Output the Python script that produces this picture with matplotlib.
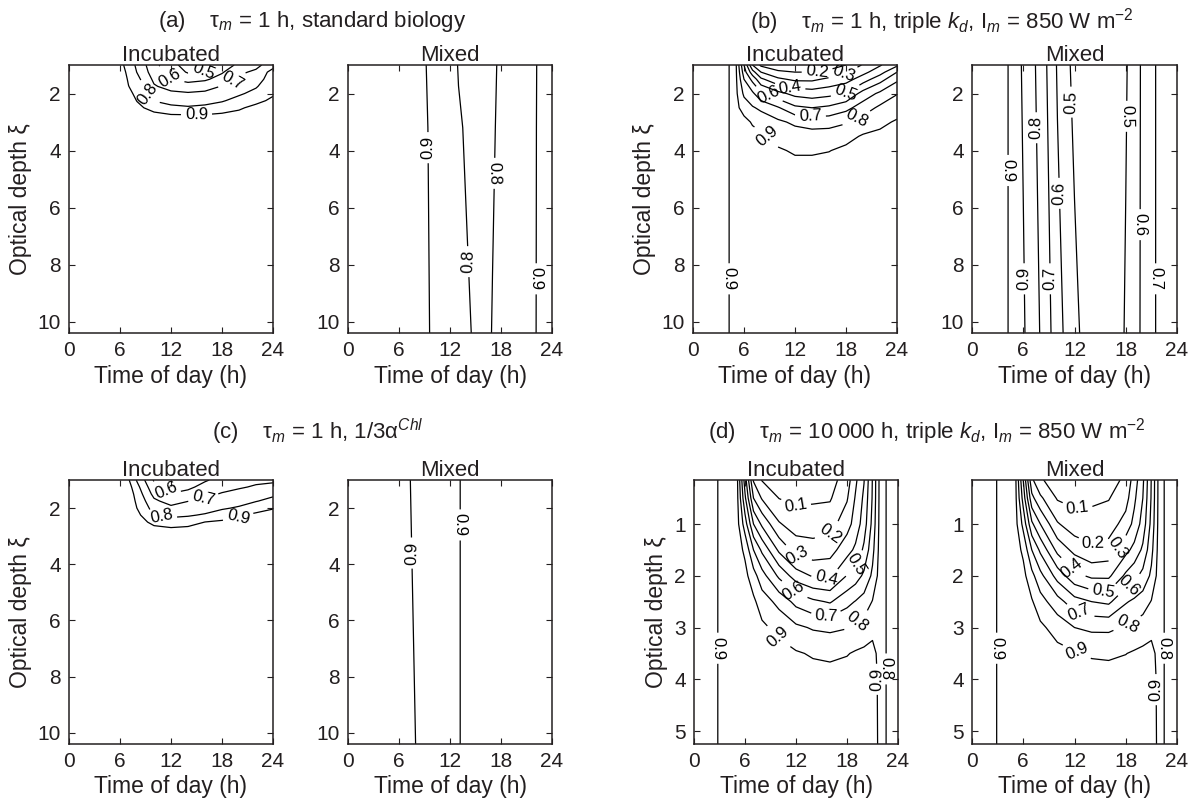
import numpy as np
import matplotlib
matplotlib.use('Agg')
import matplotlib.pyplot as plt

plt.rcParams['font.family'] = ['Liberation Sans', 'DejaVu Sans']
plt.rcParams['mathtext.fontset'] = 'custom'
plt.rcParams['mathtext.rm'] = 'Liberation Sans'
plt.rcParams['mathtext.it'] = 'Liberation Sans:italic'
plt.rcParams['text.color'] = '#231f20'
plt.rcParams['axes.labelcolor'] = '#231f20'
plt.rcParams['xtick.color'] = '#231f20'
plt.rcParams['ytick.color'] = '#231f20'

levels = [0.1, 0.2, 0.3, 0.4, 0.5, 0.6, 0.7, 0.8, 0.9]
hours = list(range(25))

# ---- (a) tau_m = 1 h, standard biology ----
incA_times = [0, 4, 6, 7, 8, 10, 12, 14, 16, 18, 20, 22, 24]
incA_depths = [1.0, 1.25, 1.5, 1.75, 2.0, 2.25, 2.5, 2.75, 3.0, 3.5, 10.4]
incA_profiles = [
    [0.97, 0.97, 0.97, 0.97, 0.97, 0.97, 0.97, 0.97, 0.97, 0.97, 0.97],
    [0.97, 0.97, 0.97, 0.97, 0.97, 0.97, 0.97, 0.97, 0.97, 0.97, 0.97],
    [0.93, 0.95, 0.96, 0.97, 0.97, 0.97, 0.97, 0.97, 0.97, 0.97, 0.97],
    [0.86, 0.875, 0.89, 0.902, 0.92, 0.94, 0.95, 0.96, 0.97, 0.97, 0.97],
    [0.78, 0.797, 0.83, 0.86, 0.88, 0.897, 0.92, 0.94, 0.95, 0.97, 0.97],
    [0.63, 0.65, 0.68, 0.71, 0.75, 0.795, 0.87, 0.92, 0.94, 0.96, 0.97],
    [0.53, 0.56, 0.60, 0.665, 0.72, 0.77, 0.82, 0.905, 0.93, 0.96, 0.97],
    [0.46, 0.49, 0.565, 0.645, 0.71, 0.76, 0.81, 0.902, 0.93, 0.96, 0.97],
    [0.47, 0.505, 0.585, 0.66, 0.72, 0.77, 0.82, 0.903, 0.93, 0.96, 0.97],
    [0.55, 0.59, 0.64, 0.705, 0.75, 0.79, 0.85, 0.915, 0.94, 0.96, 0.97],
    [0.62, 0.68, 0.72, 0.75, 0.785, 0.835, 0.89, 0.92, 0.94, 0.96, 0.97],
    [0.67, 0.72, 0.75, 0.79, 0.83, 0.88, 0.92, 0.94, 0.95, 0.96, 0.97],
    [0.76, 0.84, 0.86, 0.875, 0.89, 0.915, 0.94, 0.95, 0.96, 0.97, 0.97],
]
mixA_depths = [1.0, 3.2, 10.4]
mixA_top = [1.00, 0.99, 0.98, 0.97, 0.96, 0.95, 0.94, 0.93, 0.92, 0.905, 0.88, 0.86, 0.84,
            0.795, 0.78, 0.77, 0.775, 0.79, 0.81, 0.84, 0.86, 0.88, 0.895, 0.92, 0.95]
mixA_mid = [1.00, 0.99, 0.98, 0.97, 0.96, 0.95, 0.94, 0.93, 0.92, 0.91, 0.885, 0.865, 0.845,
            0.81, 0.79, 0.78, 0.785, 0.795, 0.81, 0.84, 0.86, 0.88, 0.896, 0.92, 0.95]
mixA_bot = [1.00, 0.99, 0.98, 0.97, 0.96, 0.95, 0.94, 0.93, 0.92, 0.915, 0.89, 0.87, 0.85,
            0.83, 0.81, 0.79, 0.785, 0.802, 0.83, 0.85, 0.87, 0.885, 0.897, 0.92, 0.95]

# ---- (b) tau_m = 1 h, triple kd, Im = 850 ----
incB_times = [0, 2, 4, 5, 6, 7, 8, 10, 12, 14, 16, 18, 20, 22, 24]
incB_depths = [1.0, 1.25, 1.5, 2.0, 2.5, 3.0, 3.5, 4.0, 4.5, 10.4]
incB_profiles = [
    [0.86, 0.86, 0.86, 0.86, 0.86, 0.86, 0.86, 0.86, 0.86, 0.86],
    [0.87, 0.87, 0.87, 0.87, 0.87, 0.87, 0.87, 0.87, 0.87, 0.87],
    [0.89, 0.89, 0.89, 0.89, 0.89, 0.89, 0.89, 0.89, 0.89, 0.89],
    [0.93, 0.93, 0.93, 0.93, 0.93, 0.93, 0.93, 0.93, 0.93, 0.93],
    [0.60, 0.65, 0.70, 0.78, 0.86, 0.93, 0.95, 0.96, 0.96, 0.96],
    [0.30, 0.44, 0.57, 0.72, 0.81, 0.89, 0.93, 0.95, 0.96, 0.96],
    [0.18, 0.30, 0.42, 0.62, 0.78, 0.86, 0.92, 0.94, 0.95, 0.96],
    [0.13, 0.22, 0.32, 0.53, 0.71, 0.82, 0.87, 0.91, 0.94, 0.96],
    [0.12, 0.20, 0.28, 0.47, 0.62, 0.78, 0.85, 0.89, 0.92, 0.96],
    [0.12, 0.20, 0.28, 0.45, 0.60, 0.76, 0.84, 0.89, 0.92, 0.96],
    [0.14, 0.23, 0.32, 0.47, 0.62, 0.76, 0.85, 0.897, 0.93, 0.96],
    [0.20, 0.29, 0.36, 0.505, 0.67, 0.79, 0.87, 0.92, 0.94, 0.96],
    [0.31, 0.37, 0.45, 0.64, 0.75, 0.84, 0.91, 0.93, 0.95, 0.96],
    [0.39, 0.46, 0.56, 0.72, 0.82, 0.88, 0.92, 0.94, 0.95, 0.96],
    [0.48, 0.60, 0.68, 0.795, 0.86, 0.91, 0.93, 0.95, 0.95, 0.96],
]
mixB_depths = [1.0, 10.4]
mixB_top = [0.86, 0.86, 0.87, 0.88, 0.89, 0.935, 0.89, 0.83, 0.76, 0.68, 0.59, 0.53, 0.47,
            0.44, 0.42, 0.41, 0.42, 0.45, 0.49, 0.55, 0.62, 0.68, 0.72, 0.74, 0.75]
mixB_bot = [0.86, 0.86, 0.87, 0.88, 0.89, 0.935, 0.91, 0.86, 0.795, 0.72, 0.64, 0.58, 0.53,
            0.48, 0.45, 0.43, 0.43, 0.46, 0.51, 0.56, 0.62, 0.68, 0.72, 0.74, 0.75]

# ---- (c) tau_m = 1 h, 1/3 alpha ----
incC_times = [0, 4, 6, 7, 8, 10, 12, 14, 16, 18, 20, 22, 24]
incC_depths = [1.0, 1.25, 1.5, 1.75, 2.0, 2.25, 2.5, 2.75, 3.0, 3.5, 10.4]
incC_profiles = [
    [0.97, 0.97, 0.97, 0.97, 0.97, 0.97, 0.97, 0.97, 0.97, 0.97, 0.97],
    [0.97, 0.97, 0.97, 0.97, 0.97, 0.97, 0.97, 0.97, 0.97, 0.97, 0.97],
    [0.97, 0.97, 0.97, 0.97, 0.97, 0.97, 0.97, 0.97, 0.97, 0.97, 0.97],
    [0.91, 0.94, 0.96, 0.97, 0.97, 0.97, 0.97, 0.97, 0.97, 0.97, 0.97],
    [0.79, 0.83, 0.86, 0.88, 0.899, 0.93, 0.95, 0.96, 0.97, 0.97, 0.97],
    [0.59, 0.63, 0.67, 0.72, 0.76, 0.79, 0.87, 0.93, 0.95, 0.97, 0.97],
    [0.53, 0.56, 0.605, 0.66, 0.725, 0.785, 0.83, 0.92, 0.95, 0.97, 0.97],
    [0.55, 0.58, 0.63, 0.698, 0.745, 0.79, 0.85, 0.93, 0.95, 0.97, 0.97],
    [0.59, 0.63, 0.67, 0.72, 0.76, 0.81, 0.902, 0.93, 0.95, 0.97, 0.97],
    [0.63, 0.66, 0.71, 0.75, 0.79, 0.84, 0.92, 0.94, 0.96, 0.97, 0.97],
    [0.66, 0.69, 0.73, 0.77, 0.81, 0.89, 0.93, 0.95, 0.96, 0.97, 0.97],
    [0.68, 0.71, 0.75, 0.795, 0.86, 0.92, 0.94, 0.95, 0.96, 0.97, 0.97],
    [0.68, 0.73, 0.78, 0.83, 0.895, 0.93, 0.95, 0.96, 0.97, 0.97, 0.97],
]
mixC_depths = [1.0, 10.4]
mixC_top = [0.96, 0.96, 0.96, 0.96, 0.95, 0.94, 0.93, 0.91, 0.88, 0.86, 0.85, 0.85, 0.87,
            0.895, 0.92, 0.94, 0.95, 0.95, 0.96, 0.96, 0.96, 0.96, 0.96, 0.96, 0.96]
mixC_bot = [0.96, 0.96, 0.96, 0.96, 0.95, 0.94, 0.93, 0.92, 0.899, 0.87, 0.855, 0.85, 0.87,
            0.895, 0.92, 0.94, 0.95, 0.95, 0.96, 0.96, 0.96, 0.96, 0.96, 0.96, 0.96]

# ---- (d) tau_m = 10000 h, triple kd, Im = 850 ----
incD_times = [0, 2, 4, 5, 6, 7, 8, 10, 12, 14, 16, 18, 19, 20, 21, 22, 23, 24]
incD_depths = [0.15, 0.5, 1.0, 1.5, 2.0, 2.5, 3.0, 3.5, 4.0, 5.25]
incD_profiles = [
    [0.85, 0.85, 0.85, 0.85, 0.85, 0.85, 0.85, 0.85, 0.85, 0.85],
    [0.88, 0.88, 0.88, 0.88, 0.88, 0.88, 0.88, 0.88, 0.88, 0.88],
    [0.93, 0.93, 0.93, 0.93, 0.93, 0.93, 0.93, 0.93, 0.93, 0.93],
    [0.95, 0.95, 0.95, 0.95, 0.95, 0.95, 0.95, 0.95, 0.95, 0.95],
    [0.55, 0.62, 0.75, 0.88, 0.93, 0.95, 0.96, 0.96, 0.96, 0.96],
    [0.19, 0.30, 0.50, 0.70, 0.84, 0.92, 0.95, 0.96, 0.96, 0.96],
    [0.095, 0.19, 0.38, 0.58, 0.74, 0.85, 0.92, 0.95, 0.96, 0.96],
    [0.06, 0.098, 0.21, 0.38, 0.58, 0.77, 0.87, 0.94, 0.95, 0.96],
    [0.05, 0.08, 0.15, 0.26, 0.45, 0.67, 0.82, 0.91, 0.95, 0.96],
    [0.05, 0.085, 0.15, 0.24, 0.39, 0.62, 0.79, 0.89, 0.94, 0.96],
    [0.06, 0.09, 0.16, 0.26, 0.38, 0.59, 0.78, 0.88, 0.94, 0.96],
    [0.15, 0.19, 0.26, 0.36, 0.505, 0.67, 0.795, 0.895, 0.94, 0.96],
    [0.28, 0.31, 0.34, 0.42, 0.55, 0.705, 0.82, 0.91, 0.94, 0.96],
    [0.395, 0.42, 0.45, 0.52, 0.62, 0.74, 0.84, 0.92, 0.95, 0.96],
    [0.605, 0.61, 0.63, 0.67, 0.72, 0.805, 0.87, 0.93, 0.95, 0.96],
    [0.86, 0.86, 0.86, 0.86, 0.86, 0.86, 0.86, 0.86, 0.86, 0.86],
    [0.76, 0.76, 0.76, 0.76, 0.76, 0.76, 0.76, 0.76, 0.76, 0.76],
    [0.75, 0.75, 0.75, 0.75, 0.75, 0.75, 0.75, 0.75, 0.75, 0.75],
]
mixD_times = [0, 2, 4, 5, 6, 7, 8, 10, 12, 14, 16, 18, 19, 20, 21, 22, 23, 24]
mixD_depths = [0.15, 0.5, 1.0, 1.5, 2.0, 2.5, 3.0, 3.5, 4.0, 5.25]
mixD_profiles = [
    [0.85, 0.85, 0.85, 0.85, 0.85, 0.85, 0.85, 0.85, 0.85, 0.85],
    [0.88, 0.88, 0.88, 0.88, 0.88, 0.88, 0.88, 0.88, 0.88, 0.88],
    [0.925, 0.925, 0.925, 0.925, 0.925, 0.925, 0.925, 0.925, 0.925, 0.925],
    [0.95, 0.95, 0.95, 0.95, 0.95, 0.95, 0.95, 0.95, 0.95, 0.95],
    [0.60, 0.66, 0.77, 0.88, 0.93, 0.95, 0.96, 0.96, 0.96, 0.96],
    [0.22, 0.33, 0.52, 0.70, 0.83, 0.91, 0.95, 0.96, 0.96, 0.96],
    [0.11, 0.22, 0.40, 0.58, 0.73, 0.84, 0.92, 0.95, 0.96, 0.96],
    [0.06, 0.09, 0.21, 0.37, 0.56, 0.74, 0.86, 0.93, 0.95, 0.96],
    [0.05, 0.075, 0.14, 0.27, 0.43, 0.64, 0.80, 0.91, 0.95, 0.96],
    [0.05, 0.08, 0.14, 0.22, 0.38, 0.60, 0.78, 0.89, 0.94, 0.96],
    [0.06, 0.095, 0.15, 0.24, 0.38, 0.58, 0.78, 0.885, 0.94, 0.96],
    [0.12, 0.16, 0.24, 0.37, 0.52, 0.69, 0.81, 0.898, 0.94, 0.96],
    [0.25, 0.28, 0.33, 0.43, 0.57, 0.72, 0.83, 0.91, 0.94, 0.96],
    [0.38, 0.40, 0.44, 0.52, 0.63, 0.75, 0.85, 0.92, 0.95, 0.96],
    [0.605, 0.61, 0.63, 0.67, 0.72, 0.805, 0.87, 0.93, 0.95, 0.96],
    [0.86, 0.86, 0.86, 0.86, 0.86, 0.86, 0.86, 0.86, 0.86, 0.86],
    [0.74, 0.74, 0.74, 0.74, 0.74, 0.74, 0.74, 0.74, 0.74, 0.74],
    [0.73, 0.73, 0.73, 0.73, 0.73, 0.73, 0.73, 0.73, 0.73, 0.73],
]

group_titles = [
    '(a)    \u03c4$_m$ = 1 h, standard biology',
    '(b)    \u03c4$_m$ = 1 h, triple $k_d$, I$_m$ = 850 W m$^{-2}$',
    '(c)    \u03c4$_m$ = 1 h, 1/3\u03b1$^{Chl}$',
    '(d)    \u03c4$_m$ = 10\u2009000 h, triple $k_d$, I$_m$ = 850 W m$^{-2}$',
]

# label spots (time, depth) for the inline contour labels
lab_incA = [(15.8, 1.2), (11.7, 1.5), (19.3, 1.6), (9.2, 2.03), (15.0, 2.74)]
lab_mixA = [(9.3, 3.9), (17.3, 4.8), (13.9, 7.9), (22.2, 8.5)]
lab_incB = [(14.6, 1.2), (17.7, 1.3), (11.4, 1.8), (18.1, 2.03), (8.8, 2.1),
            (13.8, 2.85), (19.6, 3.1), (8.7, 3.5), (4.25, 8.5)]
lab_mixB = [(4.26, 4.7), (7.7, 3.2), (11.8, 2.3), (18.1, 2.8), (10.3, 5.5),
            (19.75, 6.6), (6.1, 8.5), (9.1, 8.5), (21.5, 8.5)]
lab_incC = [(11.5, 1.35), (15.8, 1.62), (10.9, 2.3), (19.9, 2.31)]
lab_mixC = [(7.7, 3.6), (13.2, 2.6)]
lab_incD = [(11.9, 0.66), (16.0, 1.2), (12.1, 1.62), (15.6, 2.05), (19.3, 1.8),
            (11.7, 2.3), (15.6, 2.76), (19.5, 2.95), (9.8, 3.2), (2.8, 3.4),
            (21.6, 4.0), (22.6, 3.8)]
lab_mixD = [(12.3, 0.7), (14.2, 1.38), (17.3, 1.5), (11.5, 1.9), (15.4, 2.3),
            (18.5, 2.2), (12.6, 2.7), (18.3, 2.96), (12.3, 3.45), (2.9, 3.4),
            (21.6, 4.2), (22.5, 3.4)]

W, H = 1200, 807
fig = plt.figure(figsize=(W / 100, H / 100), dpi=100)


def make_axes(x0, x1, y0, y1):
    return fig.add_axes([x0 / W, 1 - y1 / H, (x1 - x0) / W, (y1 - y0) / H])


def panel(ax, times, depths, field, labels, ylim, yticks, title, ylabel):
    cs = ax.contour(times, depths, field, levels=levels, colors='k', linewidths=0.9)
    ax.clabel(cs, fmt='%.1f', fontsize=12, inline=True, inline_spacing=4, manual=labels)
    ax.set_xlim(0, 24)
    ax.set_ylim(*ylim)
    ax.set_xticks([0, 6, 12, 18, 24])
    ax.set_yticks(yticks)
    ax.tick_params(direction='in', length=4, width=0.8, top=True, right=True,
                   labelsize=15, pad=6)
    for sp in ax.spines.values():
        sp.set_linewidth(1.1)
        sp.set_color('#231f20')
    ax.set_title(title, fontsize=16, pad=3)
    ax.set_xlabel('Time of day (h)', fontsize=16.5, labelpad=3)
    if ylabel:
        ax.set_ylabel('Optical depth \u03be', fontsize=16.5, labelpad=4)


top_ylim = (10.4, 1.0)
top_yticks = [2, 4, 6, 8, 10]
d_ylim = (5.25, 0.15)
d_yticks = [1, 2, 3, 4, 5]

ax = make_axes(69, 273, 65, 333)
panel(ax, incA_times, incA_depths, np.array(incA_profiles).T, lab_incA,
      top_ylim, top_yticks, 'Incubated', True)
ax = make_axes(348, 552, 65, 333)
panel(ax, hours, mixA_depths, np.array([mixA_top, mixA_mid, mixA_bot]), lab_mixA,
      top_ylim, top_yticks, 'Mixed', False)
ax = make_axes(693, 897, 65, 333)
panel(ax, incB_times, incB_depths, np.array(incB_profiles).T, lab_incB,
      top_ylim, top_yticks, 'Incubated', True)
ax = make_axes(972, 1177, 65, 333)
panel(ax, hours, mixB_depths, np.array([mixB_top, mixB_bot]), lab_mixB,
      top_ylim, top_yticks, 'Mixed', False)

ax = make_axes(69, 273, 480, 744)
panel(ax, incC_times, incC_depths, np.array(incC_profiles).T, lab_incC,
      top_ylim, top_yticks, 'Incubated', True)
ax = make_axes(348, 552, 480, 744)
panel(ax, hours, mixC_depths, np.array([mixC_top, mixC_bot]), lab_mixC,
      top_ylim, top_yticks, 'Mixed', False)
ax = make_axes(694, 898, 480, 744)
panel(ax, incD_times, incD_depths, np.array(incD_profiles).T, lab_incD,
      d_ylim, d_yticks, 'Incubated', True)
ax = make_axes(972, 1177, 480, 744)
panel(ax, mixD_times, mixD_depths, np.array(mixD_profiles).T, lab_mixD,
      d_ylim, d_yticks, 'Mixed', False)

title_spots = [(312, 22), (942, 22), (318, 432), (927, 432)]
for (x, y), txt in zip(title_spots, group_titles):
    fig.text(x / W, 1 - y / H, txt, ha='center', va='center', fontsize=16)

fig.savefig('out.png', dpi=100)
